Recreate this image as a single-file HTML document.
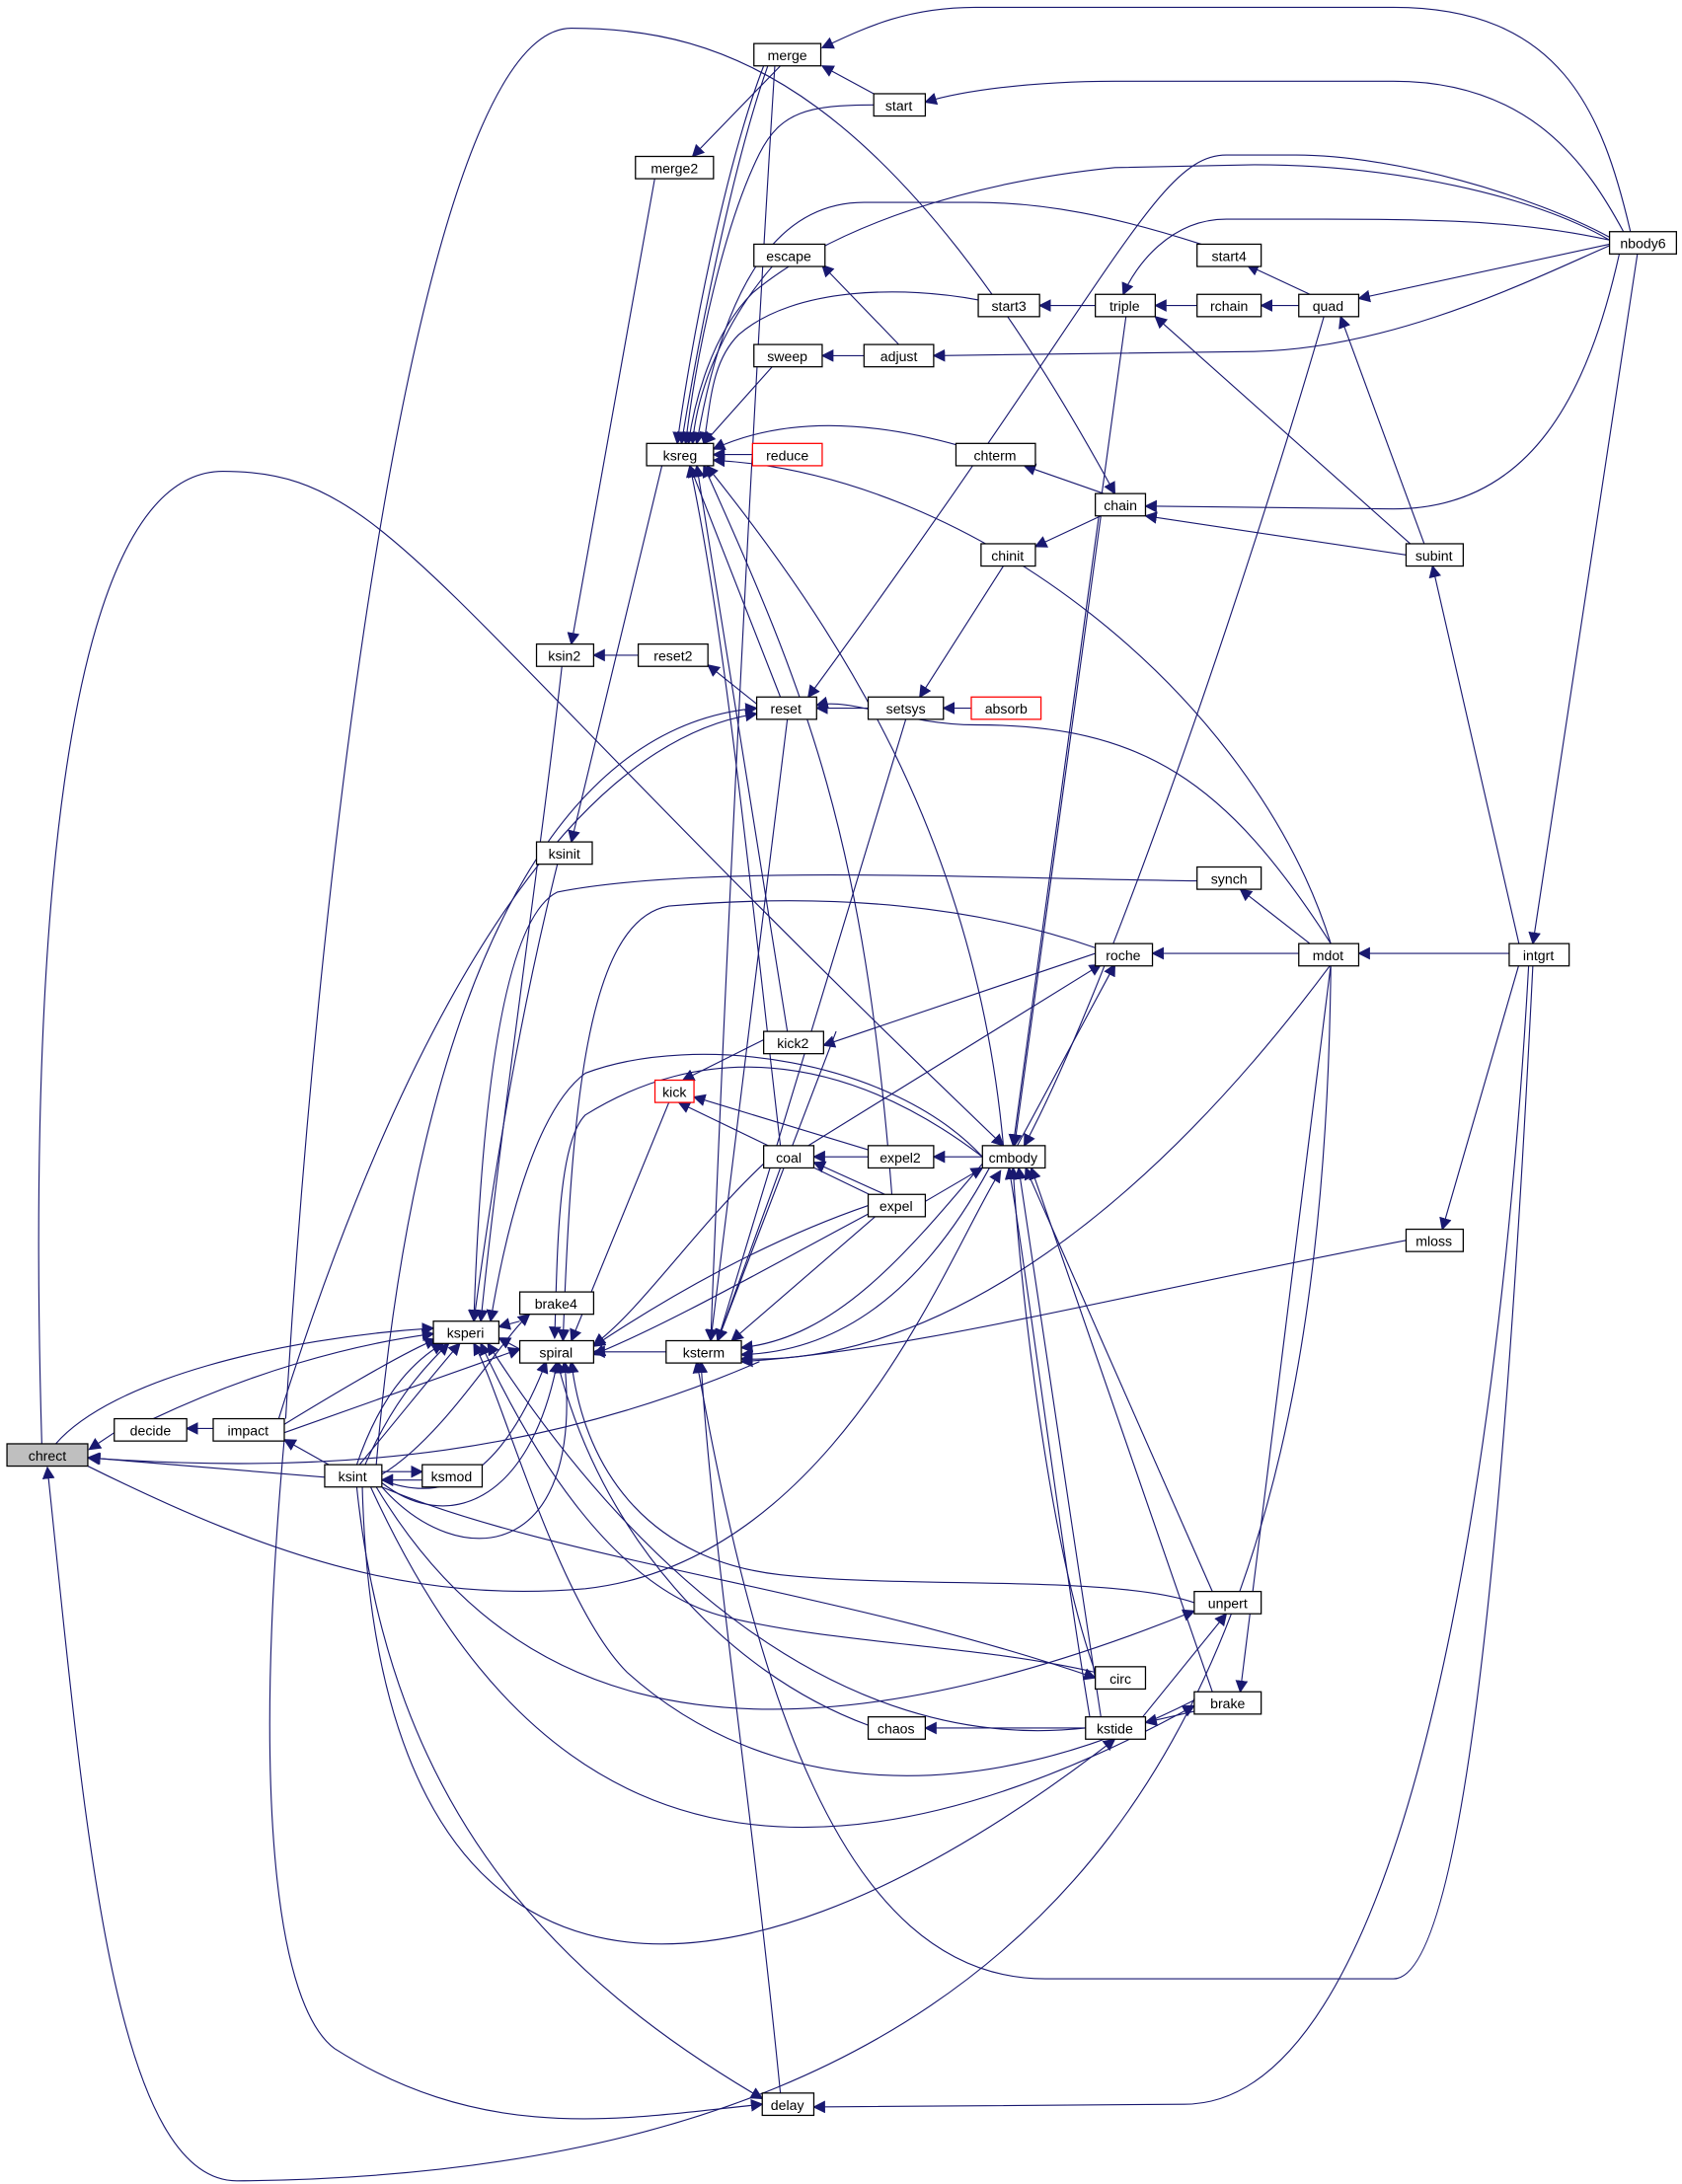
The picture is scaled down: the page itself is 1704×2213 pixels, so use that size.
<!DOCTYPE html>
<html><head><meta charset="utf-8"><style>
html,body{margin:0;padding:0;background:#fff}
svg{display:block}
text{font-family:"Liberation Sans",sans-serif;font-size:10px;text-anchor:middle;fill:#000}
.e{fill:none;stroke:#191970;stroke-width:0.8}
.n{fill:#fff;stroke:#000;stroke-width:0.9}
</style></head><body>
<svg width="1704" height="2213" viewBox="0 0 1207 1567" xmlns="http://www.w3.org/2000/svg">
<defs><marker id="a" viewBox="0 0 10 10" refX="9" refY="5" markerWidth="9" markerHeight="9" markerUnits="userSpaceOnUse" orient="auto"><path d="M0,0 L10,5 L0,10 z" fill="#191970"/></marker></defs>
<g class="e" marker-end="url(#a)">
<path d="M82,1028 L64,1040"/>
<path d="M233,1060 L64,1046"/>
<path d="M153,1025 L134,1025"/>
<path d="M236,1051 L204,1033"/>
<path d="M274,1056 L303,1056"/>
<path d="M303,1062 L274,1062"/>
<path d="M40,1036 C80,990 200,960 311,953"/>
<path d="M110,1018 C180,985 250,965 311,957"/>
<path d="M204,1022 C240,1000 290,970 313,961"/>
<path d="M256,1051 C270,1010 290,980 318,964"/>
<path d="M262,1051 C280,1010 300,985 322,964"/>
<path d="M258,1051 C300,1000 320,975 330,964"/>
<path d="M30,1036 C20,700 40,338 160,338 C280,338 300,420 720,822"/>
<path d="M63,1052 C200,1120 300,1150 420,1140 C600,1120 680,900 718,840"/>
<path d="M545,977 C400,1040 250,1060 63,1046"/>
<path d="M955,692 C950,1200 800,1560 170,1565 C80,1565 60,1300 34,1053"/>
<path d="M205,1018 C230,600 300,20 410,20 C520,20 640,60 800,354"/>
<path d="M204,1033 C180,1300 200,1440 240,1470 C350,1540 450,1520 547,1510"/>
<path d="M256,1067 C280,1300 400,1420 547,1506"/>
<path d="M204,1028 L373,968"/>
<path d="M274,1062 C320,1080 360,1060 392,977"/>
<path d="M274,1064 C320,1100 380,1080 400,977"/>
<path d="M274,1067 C330,1130 420,1120 405,977"/>
<path d="M274,1058 C320,1030 360,960 380,943"/>
<path d="M274,1067 C400,1120 600,1140 786,1204"/>
<path d="M270,1067 C350,1200 500,1300 857,1156"/>
<path d="M266,1067 C350,1250 500,1420 857,1224"/>
<path d="M260,1067 C270,1450 500,1480 800,1248"/>
<path d="M373,948 L358,952"/>
<path d="M373,968 L358,960"/>
<path d="M405,462 C390,600 360,800 345,948"/>
<path d="M400,620 C380,700 360,800 340,948"/>
<path d="M475,334 L410,604"/>
<path d="M470,127 L410,462"/>
<path d="M458,470 L426,470"/>
<path d="M543,505 L508,477"/>
<path d="M623,508 L586,508"/>
<path d="M697,508 L677,508"/>
<path d="M720,406 L660,500"/>
<path d="M795,355 L735,334"/>
<path d="M790,370 L743,392"/>
<path d="M859,219 L829,219"/>
<path d="M932,219 L905,219"/>
<path d="M786,219 L746,219"/>
<path d="M940,211 L895,190"/>
<path d="M1155,175 L975,214"/>
<path d="M1009,398 L822,370"/>
<path d="M1012,390 L829,227"/>
<path d="M1022,390 L962,227"/>
<path d="M1090,677 L1028,406"/>
<path d="M1162,182 C1140,280 1100,365 1000,365 L822,363"/>
<path d="M1155,170 C1100,140 1000,111 930,111 L880,111 C830,111 800,200 580,500"/>
<path d="M1155,172 C1100,160 1050,157 950,157 L880,157 C840,157 815,190 806,211"/>
<path d="M1155,176 C1100,200 1000,250 900,252 L670,255"/>
<path d="M1170,166 C1150,80 1120,5 1000,5 L700,5 C650,5 620,20 590,34"/>
<path d="M1165,166 C1140,120 1100,58 1000,58 L800,58 C740,58 690,65 664,73"/>
<path d="M1155,172 C1100,140 1000,118 900,118 L800,120 C700,130 600,160 540,210 C510,240 498,290 494,318"/>
<path d="M627,67 L590,47"/>
<path d="M560,47 L497,112"/>
<path d="M548,47 C520,120 495,250 486,318"/>
<path d="M551,47 C525,120 500,250 489,318"/>
<path d="M556,47 C540,300 520,700 510,962"/>
<path d="M627,75 C580,75 560,80 545,110 C520,160 500,250 492,318"/>
<path d="M862,175 C800,155 750,145 700,145 L620,145 C560,145 520,200 500,318"/>
<path d="M702,215 C650,205 570,205 530,240 C510,260 510,290 505,318"/>
<path d="M555,190 C520,230 500,280 497,318"/>
<path d="M645,247 L590,190"/>
<path d="M620,255 L590,255"/>
<path d="M555,262 L505,318"/>
<path d="M540,326 L512,326"/>
<path d="M690,320 C620,300 560,300 512,322"/>
<path d="M955,677 C900,500 700,340 512,330"/>
<path d="M720,822 C700,600 600,450 507,334"/>
<path d="M560,500 L495,334"/>
<path d="M565,740 L500,334"/>
<path d="M560,822 C540,650 520,450 495,334"/>
<path d="M640,857 C620,600 580,500 505,334"/>
<path d="M270,1051 C300,700 400,520 543,508"/>
<path d="M200,1018 C300,700 420,530 543,512"/>
<path d="M565,516 L510,962"/>
<path d="M650,516 L515,962"/>
<path d="M955,677 C880,560 820,520 700,520 C650,520 610,500 586,506"/>
<path d="M859,632 C700,630 500,620 400,640 C360,660 345,800 340,948"/>
<path d="M940,677 L890,638"/>
<path d="M932,684 L827,684"/>
<path d="M1083,684 L975,684"/>
<path d="M786,684 L591,750"/>
<path d="M786,680 C700,650 600,640 480,650 C420,660 410,800 404,962"/>
<path d="M580,822 L790,692"/>
<path d="M730,822 L800,692"/>
<path d="M560,740 L490,775"/>
<path d="M623,825 L498,787"/>
<path d="M630,860 L487,791"/>
<path d="M480,791 L410,962"/>
<path d="M623,830 L584,830"/>
<path d="M705,830 L670,830"/>
<path d="M635,857 L584,834"/>
<path d="M664,862 L705,838"/>
<path d="M600,740 L515,962"/>
<path d="M560,838 L515,962"/>
<path d="M628,873 L525,962"/>
<path d="M705,835 C650,900 600,960 532,967"/>
<path d="M710,838 C660,930 600,970 532,972"/>
<path d="M955,692 C800,900 650,980 532,975"/>
<path d="M1009,890 C800,930 650,970 532,977"/>
<path d="M1100,692 C1080,1100 1050,1420 1000,1420 L750,1420 C600,1420 540,1200 500,977"/>
<path d="M560,1502 C540,1300 510,1100 503,977"/>
<path d="M478,970 L426,970"/>
<path d="M548,835 C500,880 460,940 426,965"/>
<path d="M623,865 C550,890 480,930 426,966"/>
<path d="M625,870 C550,910 480,950 426,972"/>
<path d="M705,830 C600,750 500,750 420,800 C400,820 400,900 398,960"/>
<path d="M857,1150 C800,1130 650,1140 560,1130 C470,1120 420,1060 410,977"/>
<path d="M623,1238 C520,1200 430,1100 400,977"/>
<path d="M779,1240 C600,1260 450,1120 350,964"/>
<path d="M786,1200 C700,1180 600,1180 520,1160 C440,1140 380,1040 345,964"/>
<path d="M857,1220 C700,1300 550,1290 450,1200 C400,1150 360,1000 340,964"/>
<path d="M705,830 C640,760 500,740 420,770 C380,800 360,900 352,948"/>
<path d="M779,1240 L664,1240"/>
<path d="M857,1228 L822,1236"/>
<path d="M820,1232 L880,1158"/>
<path d="M955,692 L890,1214"/>
<path d="M786,1200 C750,1100 730,900 727,838"/>
<path d="M782,1232 C760,1100 735,900 724,838"/>
<path d="M790,1232 C770,1100 740,900 731,838"/>
<path d="M870,1142 L736,838"/>
<path d="M870,1214 L740,838"/>
<path d="M808,227 L727,822"/>
<path d="M950,227 C900,400 800,700 735,822"/>
<path d="M790,370 L728,822"/>
<path d="M1175,182 L1100,677"/>
<path d="M1090,692 L1035,882"/>
<path d="M1097,692 C1080,1000 1020,1510 850,1510 L584,1512"/>
</g>
<g>
<rect class="n" x="5" y="1036" width="58" height="16" fill="#bfbfbf" style="fill:#bfbfbf"/><text x="34" y="1048">chrect</text>
<rect class="n" x="82" y="1018" width="52" height="16"/><text x="108" y="1030">decide</text>
<rect class="n" x="153" y="1018" width="51" height="16"/><text x="178" y="1030">impact</text>
<rect class="n" x="233" y="1051" width="41" height="16"/><text x="253" y="1063">ksint</text>
<rect class="n" x="303" y="1051" width="43" height="16"/><text x="324" y="1063">ksmod</text>
<rect class="n" x="311" y="948" width="47" height="16"/><text x="334" y="960">ksperi</text>
<rect class="n" x="373" y="927" width="53" height="16"/><text x="399" y="939">brake4</text>
<rect class="n" x="373" y="962" width="53" height="16"/><text x="399" y="974">spiral</text>
<rect class="n" x="478" y="962" width="54" height="16"/><text x="505" y="974">ksterm</text>
<rect class="n" x="385" y="604" width="40" height="16"/><text x="405" y="616">ksinit</text>
<rect class="n" x="385" y="462" width="41" height="16"/><text x="405" y="474">ksin2</text>
<rect class="n" x="458" y="462" width="50" height="16"/><text x="483" y="474">reset2</text>
<rect class="n" x="543" y="500" width="43" height="16"/><text x="564" y="512">reset</text>
<rect class="n" x="623" y="500" width="54" height="16"/><text x="650" y="512">setsys</text>
<rect class="n" x="697" y="500" width="50" height="16" style="stroke:#f00"/><text x="722" y="512">absorb</text>
<rect class="n" x="456" y="112" width="56" height="16"/><text x="484" y="124">merge2</text>
<rect class="n" x="541" y="31" width="48" height="16"/><text x="565" y="43">merge</text>
<rect class="n" x="627" y="67" width="37" height="16"/><text x="645" y="79">start</text>
<rect class="n" x="541" y="175" width="51" height="16"/><text x="566" y="187">escape</text>
<rect class="n" x="541" y="247" width="49" height="16"/><text x="565" y="259">sweep</text>
<rect class="n" x="620" y="247" width="50" height="16"/><text x="645" y="259">adjust</text>
<rect class="n" x="464" y="318" width="48" height="16"/><text x="488" y="330">ksreg</text>
<rect class="n" x="540" y="318" width="50" height="16" style="stroke:#f00"/><text x="565" y="330">reduce</text>
<rect class="n" x="702" y="211" width="44" height="16"/><text x="724" y="223">start3</text>
<rect class="n" x="786" y="211" width="43" height="16"/><text x="807" y="223">triple</text>
<rect class="n" x="859" y="211" width="46" height="16"/><text x="882" y="223">rchain</text>
<rect class="n" x="932" y="211" width="43" height="16"/><text x="953" y="223">quad</text>
<rect class="n" x="859" y="175" width="46" height="16"/><text x="882" y="187">start4</text>
<rect class="n" x="1155" y="166" width="48" height="16"/><text x="1179" y="178">nbody6</text>
<rect class="n" x="686" y="318" width="57" height="16"/><text x="714" y="330">chterm</text>
<rect class="n" x="786" y="354" width="36" height="16"/><text x="804" y="366">chain</text>
<rect class="n" x="704" y="390" width="39" height="16"/><text x="723" y="402">chinit</text>
<rect class="n" x="1009" y="390" width="41" height="16"/><text x="1029" y="402">subint</text>
<rect class="n" x="859" y="622" width="46" height="16"/><text x="882" y="634">synch</text>
<rect class="n" x="786" y="677" width="41" height="16"/><text x="806" y="689">roche</text>
<rect class="n" x="932" y="677" width="43" height="16"/><text x="953" y="689">mdot</text>
<rect class="n" x="1083" y="677" width="43" height="16"/><text x="1104" y="689">intgrt</text>
<rect class="n" x="548" y="740" width="43" height="16"/><text x="569" y="752">kick2</text>
<rect class="n" x="470" y="775" width="28" height="16" style="stroke:#f00"/><text x="484" y="787">kick</text>
<rect class="n" x="548" y="822" width="36" height="16"/><text x="566" y="834">coal</text>
<rect class="n" x="623" y="822" width="47" height="16"/><text x="646" y="834">expel2</text>
<rect class="n" x="705" y="822" width="45" height="16"/><text x="727" y="834">cmbody</text>
<rect class="n" x="623" y="857" width="41" height="16"/><text x="643" y="869">expel</text>
<rect class="n" x="1009" y="882" width="41" height="16"/><text x="1029" y="894">mloss</text>
<rect class="n" x="857" y="1142" width="48" height="16"/><text x="881" y="1154">unpert</text>
<rect class="n" x="786" y="1196" width="36" height="16"/><text x="804" y="1208">circ</text>
<rect class="n" x="623" y="1232" width="41" height="16"/><text x="643" y="1244">chaos</text>
<rect class="n" x="779" y="1232" width="43" height="16"/><text x="800" y="1244">kstide</text>
<rect class="n" x="857" y="1214" width="48" height="16"/><text x="881" y="1226">brake</text>
<rect class="n" x="547" y="1502" width="37" height="16"/><text x="565" y="1514">delay</text>
</g>
</svg>
</body></html>
